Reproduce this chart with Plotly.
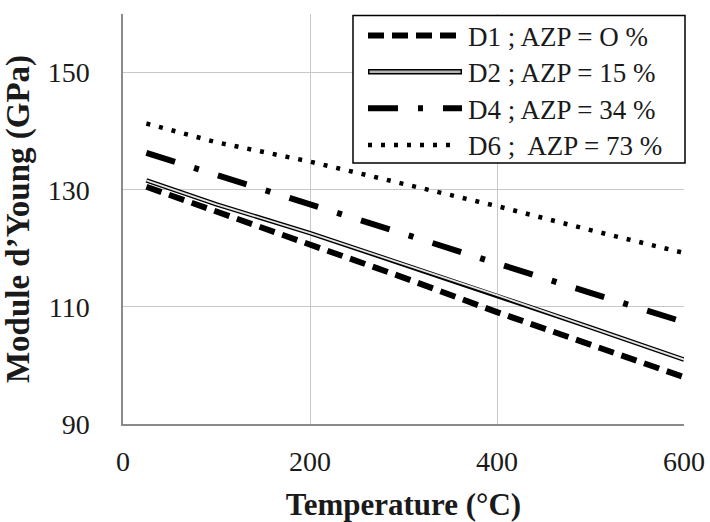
import plotly.graph_objects as go

# ---- data ----
temperature = [25, 100, 200, 300, 400, 500, 600]
d1 = [130.5, 126.3, 120.6, 115.0, 109.1, 103.6, 98.0]
d2 = [131.6, 127.5, 122.6, 117.3, 112.0, 106.5, 101.0]
d4 = [136.3, 132.5, 127.4, 122.4, 117.4, 112.4, 107.4]
d6 = [141.3, 138.1, 134.8, 131.0, 127.2, 123.1, 119.2]

labels = ["D1 ; AZP = O %", "D2 ; AZP = 15 %", "D4 ; AZP = 34 %", "D6 ;  AZP = 73 %"]
x_ticks = [0, 200, 400, 600]
y_ticks = [90, 110, 130, 150]

SERIF = "Liberation Serif"

dash_d1 = "16px,8px"
dash_d4 = "30px,20px,5px,20px"
dash_d6 = "4px,9px"

fig = go.Figure()
fig.add_trace(go.Scatter(x=temperature, y=d1, mode="lines", name=labels[0],
                         line=dict(color="black", width=6, dash=dash_d1)))
fig.add_trace(go.Scatter(x=temperature, y=d2, mode="lines", name=labels[1],
                         line=dict(color="black", width=4.5)))
fig.add_trace(go.Scatter(x=temperature, y=d2, mode="lines", name=labels[1], showlegend=False,
                         line=dict(color="#e4e4e4", width=1.8)))
fig.add_trace(go.Scatter(x=temperature, y=d4, mode="lines", name=labels[2],
                         line=dict(color="black", width=6, dash=dash_d4)))
fig.add_trace(go.Scatter(x=temperature, y=d6, mode="lines", name=labels[3],
                         line=dict(color="black", width=4.5, dash=dash_d6)))

W, H = 710, 522
L, R, T, B = 123, 684, 14, 424          # plot area in page pixels
def px(x):
    return (x - L) / (R - L)
def py(y):
    return (B - y) / (B - T)

shapes = [dict(type="rect", xref="paper", yref="paper",
               x0=px(353), x1=px(685), y0=py(163), y1=py(15.5),
               line=dict(color="black", width=1.5), fillcolor="white", layer="above")]
rows = [35.5, 71.7, 108.3, 145]
sx0, sx1 = px(368), px(462)
shapes.append(dict(type="line", xref="paper", yref="paper", x0=sx0, x1=sx1,
                   y0=py(rows[0]), y1=py(rows[0]),
                   line=dict(color="black", width=6, dash=dash_d1), layer="above"))
shapes.append(dict(type="line", xref="paper", yref="paper", x0=sx0, x1=sx1,
                   y0=py(rows[1]), y1=py(rows[1]),
                   line=dict(color="black", width=5.5), layer="above"))
shapes.append(dict(type="line", xref="paper", yref="paper", x0=px(369.5), x1=px(460.5),
                   y0=py(rows[1]), y1=py(rows[1]),
                   line=dict(color="#b4b4b4", width=2.5), layer="above"))
shapes.append(dict(type="line", xref="paper", yref="paper", x0=sx0, x1=sx1,
                   y0=py(rows[2]), y1=py(rows[2]),
                   line=dict(color="black", width=6, dash=dash_d4), layer="above"))
shapes.append(dict(type="line", xref="paper", yref="paper", x0=px(368), x1=px(452),
                   y0=py(rows[3]), y1=py(rows[3]),
                   line=dict(color="black", width=4.5, dash=dash_d6), layer="above"))

annotations = []
for lab, ry in zip(labels, rows):
    annotations.append(dict(xref="paper", yref="paper", x=px(466), y=py(ry + 1.5),
                            xanchor="left", yanchor="middle", showarrow=False, text=lab,
                            font=dict(family=SERIF, size=27, color="#1a1a1a")))

fig.update_layout(
    width=W, height=H,
    margin=dict(l=L, r=W - R, t=T, b=H - B, autoexpand=False),
    paper_bgcolor="white", plot_bgcolor="white",
    showlegend=False,
    font=dict(family=SERIF),
    shapes=shapes, annotations=annotations,
    xaxis=dict(range=[0, 600], tickvals=x_ticks, showgrid=True, gridcolor="#c8c8c8", gridwidth=1,
               showline=True, linecolor="#8a8a8a", linewidth=1.5, zeroline=False,
               ticks="", ticklabelstandoff=12, automargin=False,
               tickfont=dict(family=SERIF, size=28, color="#1a1a1a"),
               title=dict(text="<b>Temperature (°C)</b>", standoff=26,
                          font=dict(family=SERIF, size=31, color="#1a1a1a"))),
    yaxis=dict(range=[90, 160], tickvals=y_ticks, showgrid=True, gridcolor="#c8c8c8", gridwidth=1,
               showline=True, linecolor="#8a8a8a", linewidth=1.5, zeroline=False,
               ticks="", ticklabelstandoff=26, automargin=False,
               tickfont=dict(family=SERIF, size=28, color="#1a1a1a"),
               title=dict(text="<b>Module d’Young (GPa)</b>", standoff=9,
                          font=dict(family=SERIF, size=33, color="#1a1a1a"))),
)

fig.write_html(
    "out.html",
    config={"displayModeBar": False},
    post_script="document.body.style.margin='0px';document.body.style.overflow='hidden';",
)
